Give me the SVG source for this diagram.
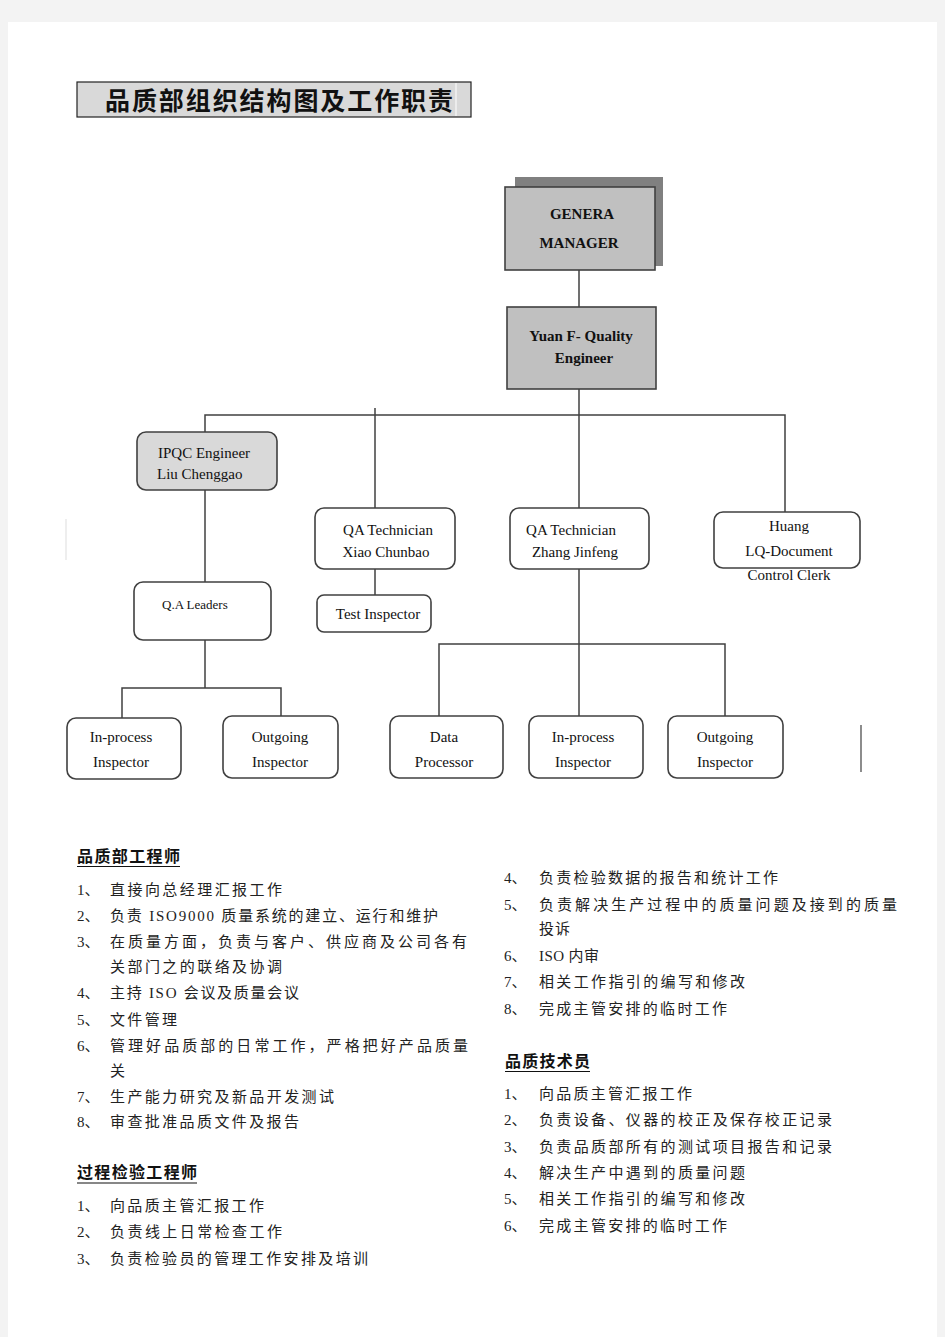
<svg xmlns="http://www.w3.org/2000/svg" width="945" height="1337" viewBox="0 0 945 1337">
<style>
.box{stroke:#404040;stroke-width:1.6;fill:#fff}
.gray{fill:#d9d9d9}
.sq{stroke:#404040;stroke-width:1.6;fill:#c0c0c0}
.n{font-family:"Liberation Serif","Times New Roman",serif;font-size:15px;fill:#111;text-anchor:middle}
.nb{font-family:"Liberation Serif","Times New Roman",serif;font-size:15px;font-weight:bold;fill:#111;text-anchor:middle}
.t{font-family:"Liberation Serif","Noto Sans CJK SC",serif;font-size:15px;fill:#222}
.h{font-family:"Liberation Serif","Noto Sans CJK SC",serif;font-size:16px;font-weight:bold;fill:#111}
.c{stroke:#404040;stroke-width:1.5;fill:none}
</style>
<rect x="0" y="0" width="945" height="1337" fill="#f3f3f3"/>
<rect x="8" y="22" width="929" height="1315" fill="#fff"/>

<g id="title">
<rect x="77" y="82" width="394" height="35" fill="#d9d9d9" stroke="#222" stroke-width="1.2"/>
<line x1="456" y1="83" x2="456" y2="116" stroke="#fff" stroke-width="1"/>
<text x="105" y="110" font-family="Liberation Serif,'Noto Sans CJK SC',serif" font-size="25" font-weight="bold" fill="#111" textLength="348" lengthAdjust="spacing">品质部组织结构图及工作职责</text>
</g>

<g id="connectors">
<path class="c" d="M579 270V307"/>
<path class="c" d="M579 389V509"/>
<path class="c" d="M205 432V415H785V512"/>
<path class="c" d="M375 408V509"/>
<path class="c" d="M205 490V582"/>
<path class="c" d="M205 640V688"/>
<path class="c" d="M122 718V688H281V716"/>
<path class="c" d="M375 569V595"/>
<path class="c" d="M579 569V716"/>
<path class="c" d="M439 716V644H725V716"/>
<line x1="66" y1="519" x2="66" y2="560" stroke="#ddd" stroke-width="1"/>
<line x1="861" y1="725" x2="861" y2="772" stroke="#404040" stroke-width="1.2"/>
</g>

<g id="general-manager">
<rect x="515" y="177" width="148" height="89" fill="#808080"/>
<rect class="sq" x="505" y="187" width="150" height="83"/>
<text class="nb" x="582" y="219">GENERA</text>
<text class="nb" x="579" y="248">MANAGER</text>
</g>

<g id="quality-engineer">
<rect class="sq" x="507" y="307" width="149" height="82"/>
<text class="nb" x="581" y="341">Yuan  F-  Quality</text>
<text class="nb" x="584" y="363">Engineer</text>
</g>

<g id="ipqc-engineer">
<rect class="box gray" x="137" y="432" width="140" height="58" rx="9"/>
<text class="n" x="158" y="458" text-anchor="start" style="text-anchor:start">IPQC  Engineer</text>
<text class="n" x="157" y="479" style="text-anchor:start">Liu  Chenggao</text>
</g>

<g id="qa-leaders">
<rect class="box" x="134" y="582" width="137" height="58" rx="9"/>
<text class="n" x="162" y="609" style="text-anchor:start;font-size:13px">Q.A  Leaders</text>
</g>

<g id="qa-tech-xiao">
<rect class="box" x="315" y="508" width="140" height="61" rx="9"/>
<text class="n" x="388" y="535">QA  Technician</text>
<text class="n" x="386" y="557">Xiao  Chunbao</text>
</g>

<g id="test-inspector">
<rect class="box" x="317" y="595" width="114" height="37" rx="7"/>
<text class="n" x="378" y="619">Test  Inspector</text>
</g>

<g id="qa-tech-zhang">
<rect class="box" x="510" y="508" width="139" height="61" rx="9"/>
<text class="n" x="571" y="535">QA  Technician</text>
<text class="n" x="575" y="557">Zhang  Jinfeng</text>
</g>

<g id="document-clerk">
<rect class="box" x="714" y="512" width="146" height="56" rx="9"/>
<text class="n" x="789" y="531">Huang</text>
<text class="n" x="789" y="556">LQ-Document</text>
<text class="n" x="789" y="580">Control  Clerk</text>
</g>

<g id="inprocess-1">
<rect class="box" x="67" y="718" width="114" height="61" rx="9"/>
<text class="n" x="121" y="742">In-process</text>
<text class="n" x="121" y="767">Inspector</text>
</g>
<g id="outgoing-1">
<rect class="box" x="223" y="716" width="115" height="62" rx="9"/>
<text class="n" x="280" y="742">Outgoing</text>
<text class="n" x="280" y="767">Inspector</text>
</g>
<g id="data-processor">
<rect class="box" x="390" y="716" width="113" height="62" rx="9"/>
<text class="n" x="444" y="742">Data</text>
<text class="n" x="444" y="767">Processor</text>
</g>
<g id="inprocess-2">
<rect class="box" x="529" y="716" width="114" height="62" rx="9"/>
<text class="n" x="583" y="742">In-process</text>
<text class="n" x="583" y="767">Inspector</text>
</g>
<g id="outgoing-2">
<rect class="box" x="668" y="716" width="115" height="62" rx="9"/>
<text class="n" x="725" y="742">Outgoing</text>
<text class="n" x="725" y="767">Inspector</text>
</g>

<g id="duties-left">
<text class="h" x="77" y="862" textLength="103" lengthAdjust="spacing">品质部工程师</text>
<line x1="77" y1="866.5" x2="180" y2="866.5" stroke="#111" stroke-width="1.2"/>
<text class="t" x="77" y="895">1、</text><text class="t" x="110" y="895" textLength="172" lengthAdjust="spacing">直接向总经理汇报工作</text>
<text class="t" x="77" y="921">2、</text><text class="t" x="110" y="921" textLength="328" lengthAdjust="spacing">负责 ISO9000 质量系统的建立、运行和维护</text>
<text class="t" x="77" y="947">3、</text><text class="t" x="110" y="947" textLength="357" lengthAdjust="spacing">在质量方面，负责与客户、供应商及公司各有</text>
<text class="t" x="110" y="972" textLength="172" lengthAdjust="spacing">关部门之的联络及协调</text>
<text class="t" x="77" y="998">4、</text><text class="t" x="110" y="998" textLength="189" lengthAdjust="spacing">主持 ISO 会议及质量会议</text>
<text class="t" x="77" y="1025">5、</text><text class="t" x="110" y="1025" textLength="67" lengthAdjust="spacing">文件管理</text>
<text class="t" x="77" y="1051">6、</text><text class="t" x="110" y="1051" textLength="358" lengthAdjust="spacing">管理好品质部的日常工作，严格把好产品质量</text>
<text class="t" x="110" y="1076">关</text>
<text class="t" x="77" y="1102">7、</text><text class="t" x="110" y="1102" textLength="224" lengthAdjust="spacing">生产能力研究及新品开发测试</text>
<text class="t" x="77" y="1127">8、</text><text class="t" x="110" y="1127" textLength="189" lengthAdjust="spacing">审查批准品质文件及报告</text>
<text class="h" x="77" y="1178" textLength="120" lengthAdjust="spacing">过程检验工程师</text>
<line x1="77" y1="1183" x2="197" y2="1183" stroke="#111" stroke-width="1.2"/>
<text class="t" x="77" y="1211">1、</text><text class="t" x="110" y="1211" textLength="154" lengthAdjust="spacing">向品质主管汇报工作</text>
<text class="t" x="77" y="1237">2、</text><text class="t" x="110" y="1237" textLength="172" lengthAdjust="spacing">负责线上日常检查工作</text>
<text class="t" x="77" y="1264">3、</text><text class="t" x="110" y="1264" textLength="258" lengthAdjust="spacing">负责检验员的管理工作安排及培训</text>
</g>

<g id="duties-right">
<text class="t" x="504" y="883">4、</text><text class="t" x="539" y="883" textLength="239" lengthAdjust="spacing">负责检验数据的报告和统计工作</text>
<text class="t" x="504" y="910">5、</text><text class="t" x="539" y="910" textLength="358" lengthAdjust="spacing">负责解决生产过程中的质量问题及接到的质量</text>
<text class="t" x="539" y="934" textLength="31" lengthAdjust="spacing">投诉</text>
<text class="t" x="504" y="961">6、</text><text class="t" x="539" y="961" textLength="60" lengthAdjust="spacing">ISO 内审</text>
<text class="t" x="504" y="987">7、</text><text class="t" x="539" y="987" textLength="206" lengthAdjust="spacing">相关工作指引的编写和修改</text>
<text class="t" x="504" y="1014">8、</text><text class="t" x="539" y="1014" textLength="188" lengthAdjust="spacing">完成主管安排的临时工作</text>
<text class="h" x="505" y="1067" textLength="85" lengthAdjust="spacing">品质技术员</text>
<line x1="505" y1="1071.5" x2="590" y2="1071.5" stroke="#111" stroke-width="1.2"/>
<text class="t" x="504" y="1099">1、</text><text class="t" x="539" y="1099" textLength="153" lengthAdjust="spacing">向品质主管汇报工作</text>
<text class="t" x="504" y="1125">2、</text><text class="t" x="539" y="1125" textLength="293" lengthAdjust="spacing">负责设备、仪器的校正及保存校正记录</text>
<text class="t" x="504" y="1152">3、</text><text class="t" x="539" y="1152" textLength="293" lengthAdjust="spacing">负责品质部所有的测试项目报告和记录</text>
<text class="t" x="504" y="1178">4、</text><text class="t" x="539" y="1178" textLength="206" lengthAdjust="spacing">解决生产中遇到的质量问题</text>
<text class="t" x="504" y="1204">5、</text><text class="t" x="539" y="1204" textLength="206" lengthAdjust="spacing">相关工作指引的编写和修改</text>
<text class="t" x="504" y="1231">6、</text><text class="t" x="539" y="1231" textLength="188" lengthAdjust="spacing">完成主管安排的临时工作</text>
</g>
</svg>
